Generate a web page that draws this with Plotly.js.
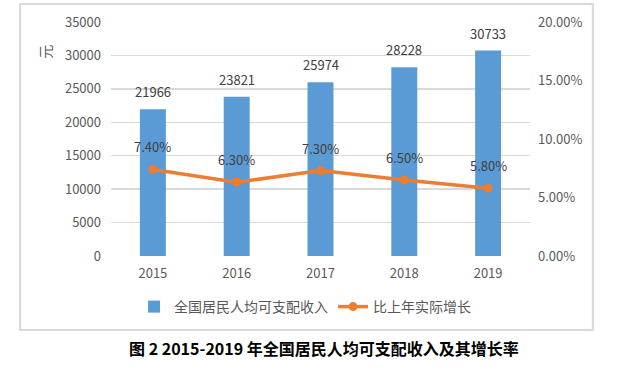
<!DOCTYPE html>
<html><head><meta charset="utf-8">
<script src="https://cdn.plot.ly/plotly-3.0.1.min.js"></script>
<style>body{margin:0;background:#fff}#c{width:619px;height:382px}</style>
</head><body><div id="c"></div>
<script>
const years = ['2015','2016','2017','2018','2019'];
const income = [21966, 23821, 25974, 28228, 30733];
const growth = [0.074, 0.063, 0.073, 0.065, 0.058];
const incomeName = '全国居民人均可支配收入';
const growthName = '比上年实际增长';
const yTitle = '元';
const caption = '图 2 2015-2019 年全国居民人均可支配收入及其增长率';

const F = '"Noto Sans CJK SC", "Noto Sans", sans-serif';
const grey = '#595959';

const traces = [
  {type:'bar', x:years, y:income, name:incomeName, marker:{color:'#5b9bd5'}, width:0.31, hoverinfo:'skip'},
  {type:'scatter', mode:'lines+markers', x:years, y:growth, yaxis:'y2', name:growthName,
   line:{color:'#ed7d31', width:3.5}, marker:{color:'#ed7d31', size:9}, hoverinfo:'skip'}
];

const ann = [];
years.forEach((yr,i)=>{
  ann.push({x:i, y:income[i], xref:'x', yref:'y', text:String(income[i]), showarrow:false,
    yanchor:'bottom', yshift:6, font:{family:F, size:13, color:'#404040'}});
  ann.push({x:i, y:growth[i], xref:'x', yref:'y2', text:(growth[i]*100).toFixed(2)+'%', showarrow:false,
    yanchor:'bottom', yshift:11, font:{family:F, size:13, color:'#404040'}});
});
ann.push({x:-0.158, y:0.872, xref:'paper', yref:'paper', xanchor:'center', yanchor:'middle',
  text:yTitle, textangle:-90, showarrow:false, font:{family:F, size:14, color:grey}});
ann.push({x:0.508, y:-0.453, xref:'paper', yref:'paper', text:'<b>'+caption+'</b>', showarrow:false,
  font:{family:F, size:16, color:'#000'}});

const layout = {
  width:619, height:382, margin:{l:111, r:89, t:22, b:126},
  paper_bgcolor:'#fff', plot_bgcolor:'#fff',
  font:{family:F, size:13, color:grey},
  showlegend:true,
  legend:{orientation:'h', x:0.055, xanchor:'left', y:-0.218, yanchor:'middle',
    font:{family:F, size:14, color:grey}, itemwidth:30, tracegroupgap:0},
  xaxis:{type:'category', range:[-0.5,4.5], autorange:false, showgrid:false, zeroline:false, showline:false, ticks:'',
    ticklabelstandoff:8, tickfont:{family:F, size:13, color:grey}},
  yaxis:{range:[0,35000], dtick:5000, tickformat:'d', showgrid:true, gridcolor:'#d9d9d9', gridwidth:1.5,
    zeroline:false, showline:false, ticks:'', ticklabelstandoff:9, tickfont:{family:F, size:13, color:grey}},
  yaxis2:{overlaying:'y', side:'right', range:[0,0.2], dtick:0.05, tickformat:'.2%',
    showgrid:false, zeroline:false, showline:false, ticks:'', ticklabelstandoff:7, tickfont:{family:F, size:13, color:grey}},
  shapes:[{type:'rect', xref:'paper', yref:'paper', x0:-0.217, x1:1.150, y0:-0.316, y1:1.077,
    line:{color:'#d9d9d9', width:2}, fillcolor:'rgba(0,0,0,0)', layer:'below'}],
  annotations:ann
};
Plotly.newPlot('c', traces, layout, {displayModeBar:false, staticPlot:true});
</script></body></html>
